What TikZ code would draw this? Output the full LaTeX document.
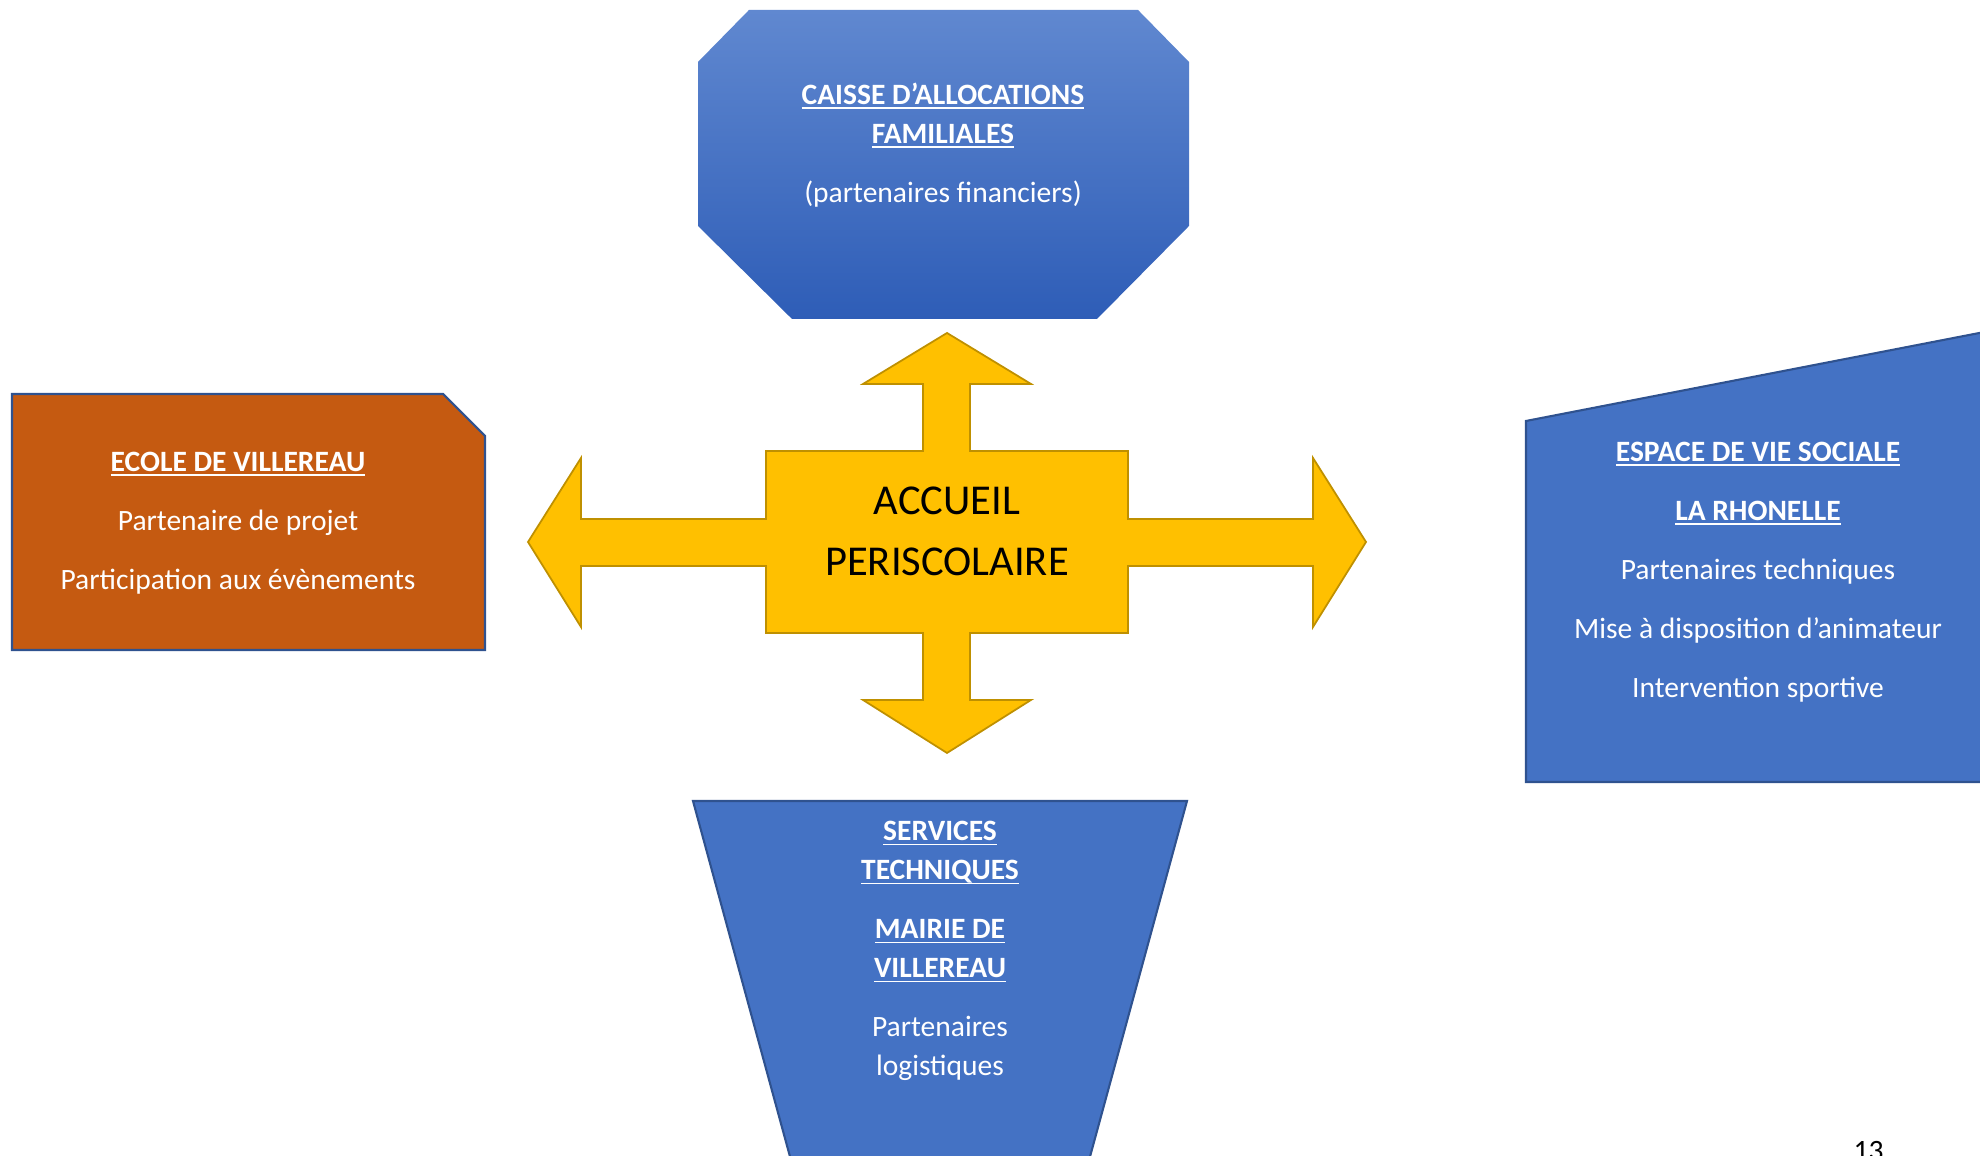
\documentclass[tikz,border=0pt]{standalone}
\usepackage{fontspec}
\setmainfont{Carlito}
\definecolor{bleu}{HTML}{4472C4}
\definecolor{bleubord}{HTML}{2F528F}
\definecolor{cafhaut}{HTML}{6088D0}
\definecolor{cafbas}{HTML}{2E5DB7}
\definecolor{ecoleorange}{HTML}{C55A11}
\definecolor{jaune}{HTML}{FFC000}
\definecolor{jaunebord}{HTML}{BF9000}
\newsavebox{\titrebox}
\newcommand{\titre}[1]{\sbox{\titrebox}{\bfseries #1}\rlap{\rule[-1.3pt]{\wd\titrebox}{0.4pt}}\usebox{\titrebox}}

\begin{document}
\begin{tikzpicture}[
    bloc/.style={fill=bleu,draw=bleubord,line width=0.6pt},
    texte/.style={text=white,align=center,inner sep=0pt,font=\fontsize{8.4}{11.1}\selectfont},
  ]
  \path[use as bounding box] (0,0) rectangle (19.80,11.56);
  \clip (0,0) rectangle (19.80,11.56);

  % caisse d'allocations familiales
  \shade[top color=cafhaut,bottom color=cafbas] (7.49,11.46) -- (11.38,11.46) -- (11.89,10.94) -- (11.89,9.30)
    -- (10.97,8.37) -- (7.92,8.37) -- (6.98,9.30) -- (6.98,10.94) -- cycle;
  \node[texte] (caf) at (9.43,10.11) {\titre{CAISSE D’ALLOCATIONS}\\ \titre{FAMILIALES}\\[5.7pt] (partenaires financiers)};

  % accueil periscolaire
  \draw[fill=jaune,draw=jaunebord,line width=0.5pt] (9.47,8.23) -- (10.31,7.72) -- (9.70,7.72) -- (9.70,7.05)
    -- (11.28,7.05) -- (11.28,6.37) -- (13.13,6.37) -- (13.13,6.98) -- (13.66,6.14) -- (13.13,5.29)
    -- (13.13,5.90) -- (11.28,5.90) -- (11.28,5.23) -- (9.70,5.23) -- (9.70,4.56) -- (10.31,4.56)
    -- (9.47,4.03) -- (8.63,4.56) -- (9.23,4.56) -- (9.23,5.23) -- (7.66,5.23) -- (7.66,5.90)
    -- (5.81,5.90) -- (5.81,5.29) -- (5.28,6.14) -- (5.81,6.98) -- (5.81,6.37) -- (7.66,6.37)
    -- (7.66,7.05) -- (9.23,7.05) -- (9.23,7.72) -- (8.63,7.72) -- cycle;
  \node[align=center,inner sep=0pt,font=\fontsize{12.1}{17.4}\selectfont] (accueil) at (9.47,6.25) {ACCUEIL\\PERISCOLAIRE};

  % ecole
  \draw[fill=ecoleorange,draw=bleubord,line width=0.6pt] (0.12,7.62) -- (4.43,7.62) -- (4.85,7.20) -- (4.85,5.06) -- (0.12,5.06) -- cycle;
  \node[texte] (ecole) at (2.38,6.33) {\titre{ECOLE DE VILLEREAU}\\[5.7pt] Partenaire de projet\\[5.7pt] Participation aux évènements};

  % espace de vie sociale
  \draw[bloc] (15.26,7.35) -- (20.00,8.27) -- (20.00,3.74) -- (15.26,3.74) -- cycle;
  \node[texte] (evs) at (17.58,5.84) {\titre{ESPACE DE VIE SOCIALE}\\[5.7pt] \titre{LA RHONELLE}\\[5.7pt] Partenaires techniques\\[5.7pt]
    Mise à disposition d’animateur\\[5.7pt] Intervention sportive};

  % services techniques
  \draw[bloc] (6.93,3.55) -- (11.87,3.55) -- (10.82,-0.30) -- (7.98,-0.30) -- cycle;
  \node[texte] (mairie) at (9.40,2.05) {\titre{SERVICES}\\ \titre{TECHNIQUES}\\[5.7pt] \titre{MAIRIE DE}\\ \titre{VILLEREAU}\\[5.7pt]
    Partenaires\\ logistiques};

  \node[anchor=north west,inner sep=0pt,font=\fontsize{8.4}{10}\selectfont] (page) at (18.53,0.15) {13};
\end{tikzpicture}
\end{document}
